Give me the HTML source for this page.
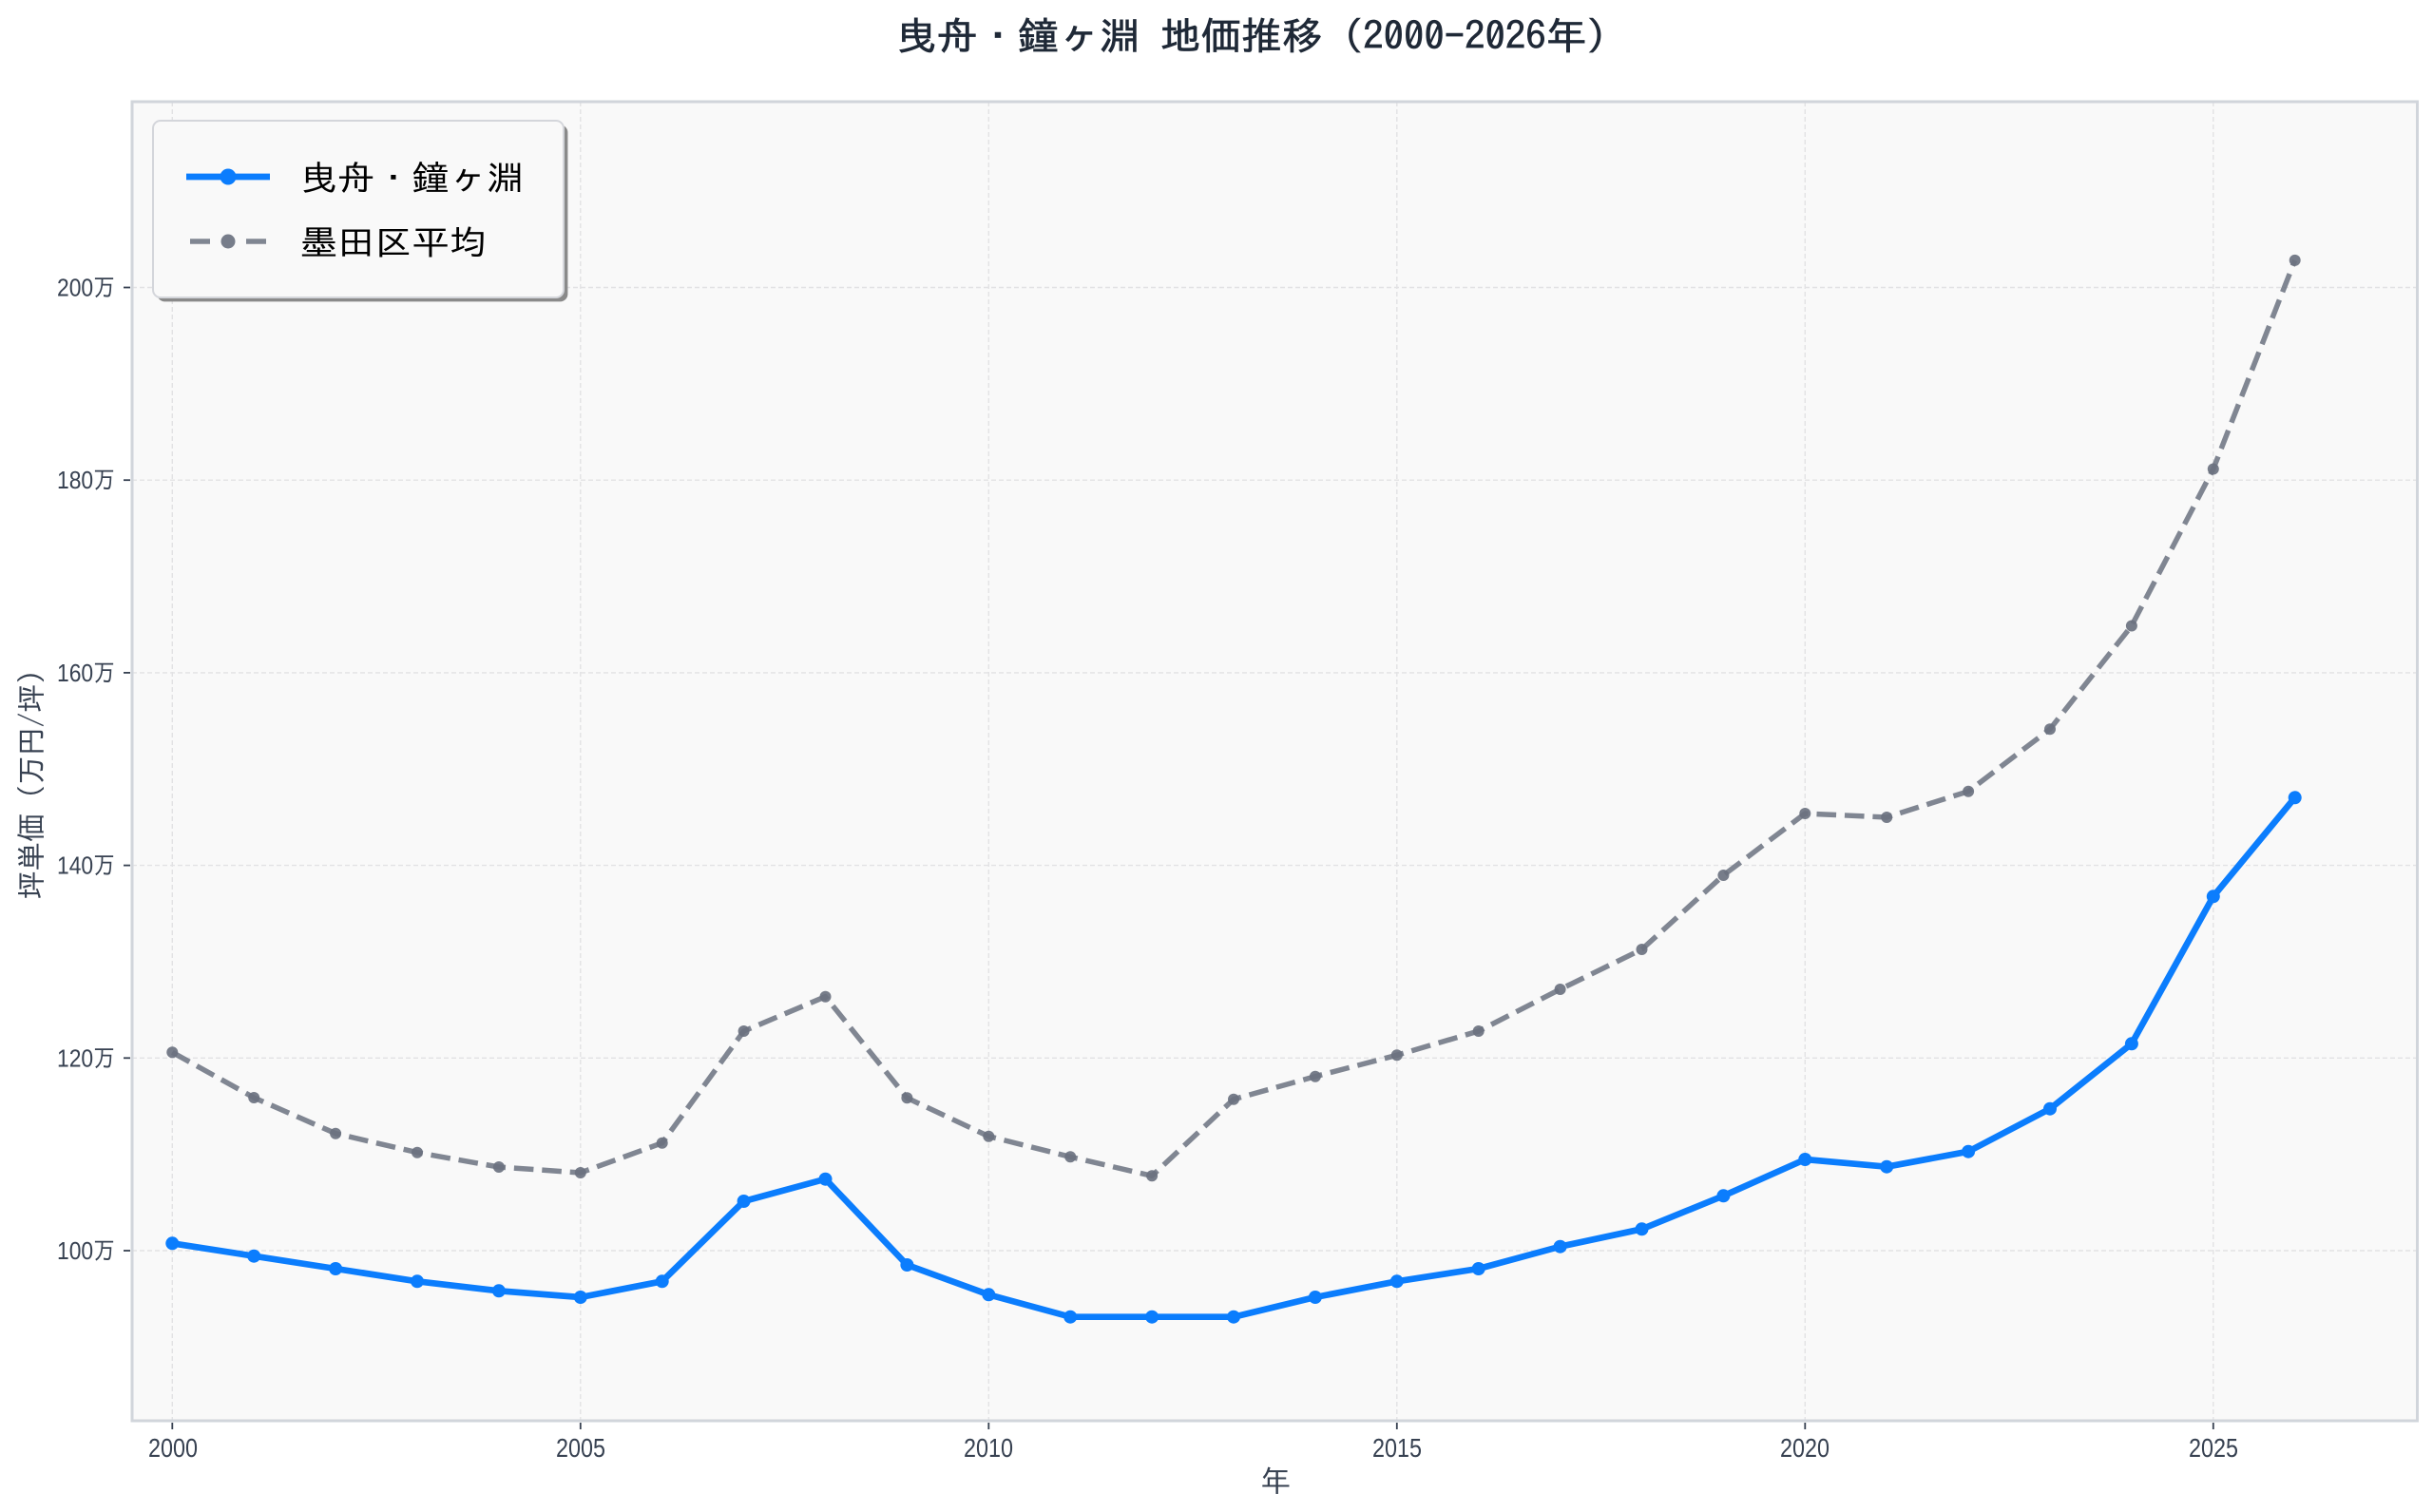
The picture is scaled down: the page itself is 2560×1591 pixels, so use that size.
<!DOCTYPE html>
<html><head><meta charset="utf-8"><style>
html,body{margin:0;padding:0;background:#fff;}
svg{display:block;}
text{font-family:"Liberation Sans","IPAGothic","Noto Sans CJK JP",sans-serif;}
.jp{font-family:"IPAGothic","Noto Sans CJK JP",sans-serif;}
</style></head><body>
<svg width="2560" height="1591" viewBox="0 0 2560 1591" xmlns="http://www.w3.org/2000/svg">
<rect x="0" y="0" width="2560" height="1591" fill="#ffffff"/>
<!-- title -->
<text class="jp" x="943" y="52" font-size="40" fill="#1f2937" stroke="#1f2937" stroke-width="0.7" textLength="769" lengthAdjust="spacingAndGlyphs">曳舟・鐘ヶ淵 地価推移（2000-2026年）</text>
<!-- axes bg -->
<rect x="139" y="107" width="2404.5" height="1388" fill="#f9f9f9"/>
<!-- grid -->
<g stroke="#e2e2e4" stroke-width="1.4" stroke-dasharray="5,3" fill="none">
<line x1="181.3" y1="107" x2="181.3" y2="1495"/>
<line x1="610.8" y1="107" x2="610.8" y2="1495"/>
<line x1="1040.3" y1="107" x2="1040.3" y2="1495"/>
<line x1="1469.8" y1="107" x2="1469.8" y2="1495"/>
<line x1="1899.3" y1="107" x2="1899.3" y2="1495"/>
<line x1="2328.8" y1="107" x2="2328.8" y2="1495"/>
<line x1="139" y1="1316" x2="2543.5" y2="1316"/>
<line x1="139" y1="1113.3" x2="2543.5" y2="1113.3"/>
<line x1="139" y1="910.6" x2="2543.5" y2="910.6"/>
<line x1="139" y1="707.9" x2="2543.5" y2="707.9"/>
<line x1="139" y1="505.2" x2="2543.5" y2="505.2"/>
<line x1="139" y1="302.5" x2="2543.5" y2="302.5"/>
</g>
<!-- spines -->
<rect x="139" y="107" width="2404.5" height="1388" fill="none" stroke="#d1d5db" stroke-width="3"/>
<!-- ticks -->
<g stroke="#374151" stroke-width="1.8">
<line x1="181.3" y1="1497" x2="181.3" y2="1504"/>
<line x1="610.8" y1="1497" x2="610.8" y2="1504"/>
<line x1="1040.3" y1="1497" x2="1040.3" y2="1504"/>
<line x1="1469.8" y1="1497" x2="1469.8" y2="1504"/>
<line x1="1899.3" y1="1497" x2="1899.3" y2="1504"/>
<line x1="2328.8" y1="1497" x2="2328.8" y2="1504"/>
<line x1="130" y1="1316" x2="137" y2="1316"/>
<line x1="130" y1="1113.3" x2="137" y2="1113.3"/>
<line x1="130" y1="910.6" x2="137" y2="910.6"/>
<line x1="130" y1="707.9" x2="137" y2="707.9"/>
<line x1="130" y1="505.2" x2="137" y2="505.2"/>
<line x1="130" y1="302.5" x2="137" y2="302.5"/>
</g>
<!-- x tick labels -->
<g class="jp" font-size="28" fill="#374151" text-anchor="middle">
<text x="182" y="1533" textLength="52" lengthAdjust="spacingAndGlyphs">2000</text>
<text x="611" y="1533" textLength="52" lengthAdjust="spacingAndGlyphs">2005</text>
<text x="1040" y="1533" textLength="52" lengthAdjust="spacingAndGlyphs">2010</text>
<text x="1470" y="1533" textLength="52" lengthAdjust="spacingAndGlyphs">2015</text>
<text x="1899" y="1533" textLength="52" lengthAdjust="spacingAndGlyphs">2020</text>
<text x="2329" y="1533" textLength="52" lengthAdjust="spacingAndGlyphs">2025</text>
</g>
<!-- y tick labels -->
<g class="jp" font-size="26" fill="#374151" text-anchor="end">
<text x="121" y="1325" textLength="61" lengthAdjust="spacingAndGlyphs">100万</text>
<text x="121" y="1122.3" textLength="61" lengthAdjust="spacingAndGlyphs">120万</text>
<text x="121" y="919.6" textLength="61" lengthAdjust="spacingAndGlyphs">140万</text>
<text x="121" y="716.9" textLength="61" lengthAdjust="spacingAndGlyphs">160万</text>
<text x="121" y="514.2" textLength="61" lengthAdjust="spacingAndGlyphs">180万</text>
<text x="121" y="311.5" textLength="61" lengthAdjust="spacingAndGlyphs">200万</text>
</g>
<!-- axis labels -->
<text class="jp" x="1342" y="1570" font-size="32" fill="#374151" text-anchor="middle">年</text>
<text class="jp" transform="translate(44,818) rotate(-90)" x="0" y="0" font-size="31" fill="#374151" text-anchor="middle" textLength="257" lengthAdjust="spacingAndGlyphs">坪単価（万円/坪）</text>
<!-- gray series -->
<polyline fill="none" stroke="#6b7280" stroke-opacity="0.85" stroke-width="5.5" stroke-dasharray="20.6,8.9" stroke-linejoin="round"
points="181.3,1107.3 267.2,1155 353.1,1192.7 439,1212.7 524.9,1228 610.8,1234 696.7,1202.7 782.6,1085 868.5,1048.7 954.4,1155.3 1040.3,1195.7 1126.2,1217.3 1212.1,1237.3 1298,1156.7 1383.9,1132.7 1469.8,1110.3 1555.7,1085 1641.6,1041 1727.5,999 1813.4,921 1899.3,856 1985.2,860 2071.1,832.7 2157,767.2 2242.9,658.5 2328.8,493.5 2414.7,273.9"/>
<g fill="#6b7280" fill-opacity="0.92">
<circle cx="181.3" cy="1107.3" r="6"/><circle cx="267.2" cy="1155" r="6"/><circle cx="353.1" cy="1192.7" r="6"/><circle cx="439" cy="1212.7" r="6"/><circle cx="524.9" cy="1228" r="6"/><circle cx="610.8" cy="1234" r="6"/><circle cx="696.7" cy="1202.7" r="6"/><circle cx="782.6" cy="1085" r="6"/><circle cx="868.5" cy="1048.7" r="6"/><circle cx="954.4" cy="1155.3" r="6"/><circle cx="1040.3" cy="1195.7" r="6"/><circle cx="1126.2" cy="1217.3" r="6"/><circle cx="1212.1" cy="1237.3" r="6"/><circle cx="1298" cy="1156.7" r="6"/><circle cx="1383.9" cy="1132.7" r="6"/><circle cx="1469.8" cy="1110.3" r="6"/><circle cx="1555.7" cy="1085" r="6"/><circle cx="1641.6" cy="1041" r="6"/><circle cx="1727.5" cy="999" r="6"/><circle cx="1813.4" cy="921" r="6"/><circle cx="1899.3" cy="856" r="6"/><circle cx="1985.2" cy="860" r="6"/><circle cx="2071.1" cy="832.7" r="6"/><circle cx="2157" cy="767.2" r="6"/><circle cx="2242.9" cy="658.5" r="6"/><circle cx="2328.8" cy="493.5" r="6"/><circle cx="2414.7" cy="273.9" r="6"/>
</g>
<!-- blue series -->
<polyline fill="none" stroke="#0b7dfd" stroke-width="6.7" stroke-linejoin="round"
points="181.3,1308.3 267.2,1321.7 353.1,1335 439,1348.3 524.9,1358.3 610.8,1365 696.7,1348.3 782.6,1264 868.5,1240.7 954.4,1331 1040.3,1362.3 1126.2,1385.7 1212.1,1385.7 1298,1385.7 1383.9,1365 1469.8,1348.3 1555.7,1335 1641.6,1311.7 1727.5,1293.3 1813.4,1258.3 1899.3,1220 1985.2,1227.7 2071.1,1211.7 2157,1166.7 2242.9,1098.3 2328.8,943.3 2414.7,839.3"/>
<g fill="#0b7dfd">
<circle cx="181.3" cy="1308.3" r="7"/><circle cx="267.2" cy="1321.7" r="7"/><circle cx="353.1" cy="1335" r="7"/><circle cx="439" cy="1348.3" r="7"/><circle cx="524.9" cy="1358.3" r="7"/><circle cx="610.8" cy="1365" r="7"/><circle cx="696.7" cy="1348.3" r="7"/><circle cx="782.6" cy="1264" r="7"/><circle cx="868.5" cy="1240.7" r="7"/><circle cx="954.4" cy="1331" r="7"/><circle cx="1040.3" cy="1362.3" r="7"/><circle cx="1126.2" cy="1385.7" r="7"/><circle cx="1212.1" cy="1385.7" r="7"/><circle cx="1298" cy="1385.7" r="7"/><circle cx="1383.9" cy="1365" r="7"/><circle cx="1469.8" cy="1348.3" r="7"/><circle cx="1555.7" cy="1335" r="7"/><circle cx="1641.6" cy="1311.7" r="7"/><circle cx="1727.5" cy="1293.3" r="7"/><circle cx="1813.4" cy="1258.3" r="7"/><circle cx="1899.3" cy="1220" r="7"/><circle cx="1985.2" cy="1227.7" r="7"/><circle cx="2071.1" cy="1211.7" r="7"/><circle cx="2157" cy="1166.7" r="7"/><circle cx="2242.9" cy="1098.3" r="7"/><circle cx="2328.8" cy="943.3" r="7"/><circle cx="2414.7" cy="839.3" r="7"/>
</g>
<!-- legend -->
<rect x="165.4" y="131.4" width="432" height="186" rx="8" ry="8" fill="#8a8a8a"/>
<rect x="161" y="127" width="432" height="186" rx="8" ry="8" fill="#f9f9f9" stroke="#d4d6db" stroke-width="2"/>
<line x1="196" y1="186" x2="284" y2="186" stroke="#0b7dfd" stroke-width="6.7"/>
<circle cx="240" cy="186" r="8.5" fill="#0b7dfd"/>
<line x1="200" y1="254" x2="221" y2="254" stroke="#6b7280" stroke-opacity="0.85" stroke-width="5.5"/>
<line x1="259" y1="254" x2="280" y2="254" stroke="#6b7280" stroke-opacity="0.85" stroke-width="5.5"/>
<circle cx="240" cy="254" r="7.5" fill="#6b7280" fill-opacity="0.92"/>
<text class="jp" x="316" y="200" font-size="36" fill="#000000" textLength="235" lengthAdjust="spacingAndGlyphs">曳舟・鐘ヶ淵</text>
<text class="jp" x="316" y="268" font-size="36" fill="#000000" textLength="196" lengthAdjust="spacingAndGlyphs">墨田区平均</text>
</svg>
</body></html>
